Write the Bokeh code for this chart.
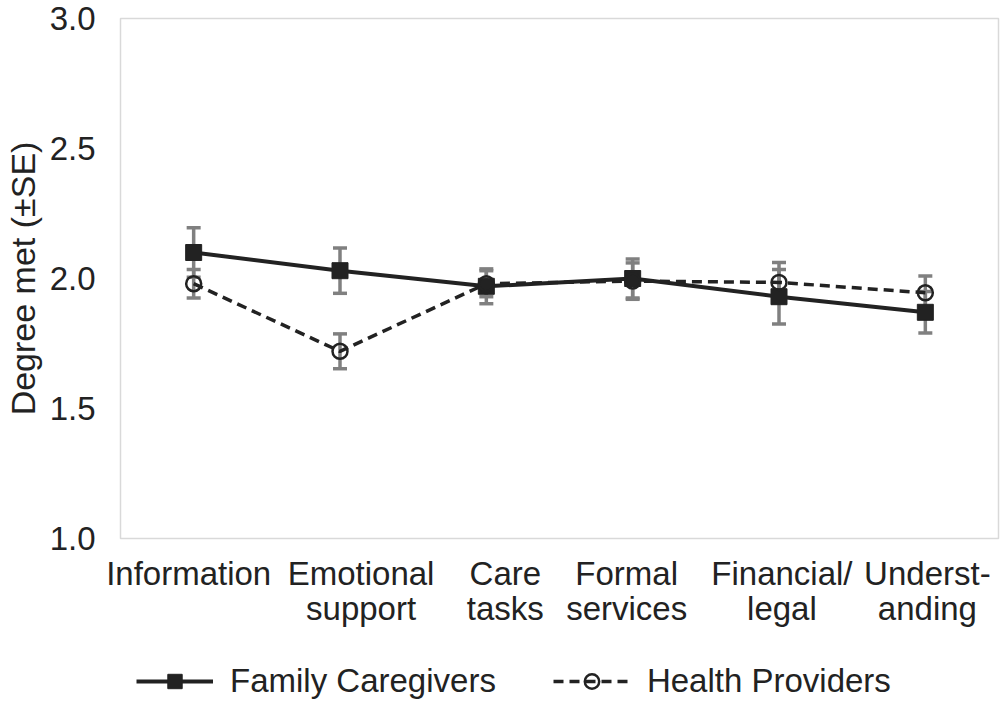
from bokeh.plotting import figure
from bokeh.models import (ColumnDataSource, Whisker, TeeHead, Legend, LegendItem,
                          FixedTicker, PrintfTickFormatter, Range1d, LinearAxis)
from bokeh.layouts import column
from bokeh.embed import file_html
from bokeh.resources import INLINE

# ---- data ----
categories = ["Information", "Emotional support", "Care tasks",
              "Formal services", "Financial/ legal", "Understanding"]
label_line1 = ["Information", "Emotional", "Care", "Formal", "Financial/", "Underst-"]
label_line2 = ["", "support", "tasks", "services", "legal", "anding"]
family_mean = [2.10, 2.03, 1.97, 2.00, 1.93, 1.87]
family_se = [0.095, 0.087, 0.067, 0.075, 0.105, 0.08]
health_mean = [1.98, 1.72, 1.98, 1.99, 1.985, 1.945]
health_se = [0.055, 0.067, 0.05, 0.07, 0.077, 0.065]
y_ticks = [1.0, 1.5, 2.0, 2.5, 3.0]
series_names = ["Family Caregivers", "Health Providers"]

FONT = "Liberation Sans"
TXT = "#222222"
DARK = "#222222"
GRAY = "#808080"
FS = "33px"

# category slots on the x scale (one unit per category, marks at slot centres)
xpos = [i + 0.5 for i in range(len(categories))]
# layout: small horizontal nudges of the category labels (in slot units)
label_nudge = [-0.034, 0.144, 0.13, -0.041, 0.02, 0.014]
label_pos = [x + d for x, d in zip(xpos, label_nudge)]

fam = ColumnDataSource(dict(
    x=xpos, y=family_mean,
    lo=[m - s for m, s in zip(family_mean, family_se)],
    hi=[m + s for m, s in zip(family_mean, family_se)]))
hea = ColumnDataSource(dict(
    x=xpos, y=health_mean,
    lo=[m - s for m, s in zip(health_mean, health_se)],
    hi=[m + s for m, s in zip(health_mean, health_se)]))

p = figure(width=1000, height=634, x_range=Range1d(0, len(categories)),
           y_range=Range1d(1.0, 3.0), output_backend="svg", toolbar_location=None,
           min_border_left=0, min_border_right=2, min_border_top=18,
           min_border_bottom=96)
p.grid.visible = False
p.outline_line_color = "#d9d9d9"
p.outline_line_width = 1.5
p.background_fill_color = "white"
p.border_fill_color = "white"

# y axis
p.yaxis.ticker = FixedTicker(ticks=y_ticks)
p.yaxis.formatter = PrintfTickFormatter(format="%.1f")
p.yaxis.axis_label = "Degree met (±SE)"
p.yaxis.axis_label_text_font = FONT
p.yaxis.axis_label_text_font_size = "34px"
p.yaxis.axis_label_text_font_style = "normal"
p.yaxis.axis_label_text_color = TXT
p.yaxis.axis_label_standoff = 5
p.yaxis.major_label_standoff = 19

# x axes: two rows of category labels
p.xaxis.ticker = FixedTicker(ticks=label_pos)
p.xaxis.major_label_overrides = {x: t for x, t in zip(label_pos, label_line1)}
p.xaxis.major_label_standoff = 10
ax2 = LinearAxis(ticker=FixedTicker(ticks=label_pos),
                 major_label_overrides={x: t for x, t in zip(label_pos, label_line2)},
                 major_label_standoff=-11)
p.add_layout(ax2, "below")

for ax in (p.xaxis[0], ax2, p.yaxis[0]):
    ax.axis_line_color = None
    ax.major_tick_line_color = None
    ax.minor_tick_line_color = None
    ax.major_label_text_font = FONT
    ax.major_label_text_font_size = FS
    ax.major_label_text_color = TXT

# error bars
for src in (fam, hea):
    w = Whisker(source=src, base="x", lower="lo", upper="hi",
                line_color=GRAY, line_width=3.5,
                upper_head=TeeHead(size=14, line_color=GRAY, line_width=3.5),
                lower_head=TeeHead(size=14, line_color=GRAY, line_width=3.5))
    p.add_layout(w)

line_styles = [dict(line_color=DARK, line_width=4),
               dict(line_color=DARK, line_width=3.5, line_dash="10 6")]
marker_styles = [dict(marker="square", size=16, fill_color=DARK, line_color=DARK),
                 dict(marker="circle", size=15, fill_color=None, line_color=DARK,
                      line_width=2.5)]

for src, ls in zip((fam, hea), line_styles):
    p.line("x", "y", source=src, **ls)
for src, ms in zip((fam, hea), marker_styles):
    p.scatter("x", "y", source=src, **ms)

# legend strip below the chart (its frame is aligned with the chart's frame)
lf = figure(width=1000, height=66, x_range=Range1d(0, 1), y_range=Range1d(0, 1),
            output_backend="svg", toolbar_location=None,
            x_axis_type=None, y_axis_type=None,
            min_border_left=0, min_border_right=0,
            min_border_top=0, min_border_bottom=0)
lf.grid.visible = False
lf.outline_line_color = None
items = []
for name, ls, ms in zip(series_names, line_styles, marker_styles):
    # legend-only sample renderers, placed outside the visible range
    sample = ColumnDataSource(dict(x=[5, 6], y=[5, 5]))
    r1 = lf.line("x", "y", source=sample, **ls)
    r2 = lf.scatter("x", "y", source=sample, **ms)
    items.append(LegendItem(label=name, renderers=[r1, r2]))
legend = Legend(items=items, orientation="horizontal", location=(16, 0),
                label_text_font=FONT, label_text_font_size=FS,
                label_text_color=TXT, glyph_width=77, glyph_height=36,
                label_height=36, label_standoff=17, spacing=57, padding=0,
                margin=0, border_line_color=None, background_fill_alpha=0)
lf.add_layout(legend, "center")

layout = column(p, lf, spacing=0)
open("out.html", "w").write(file_html(layout, INLINE))
